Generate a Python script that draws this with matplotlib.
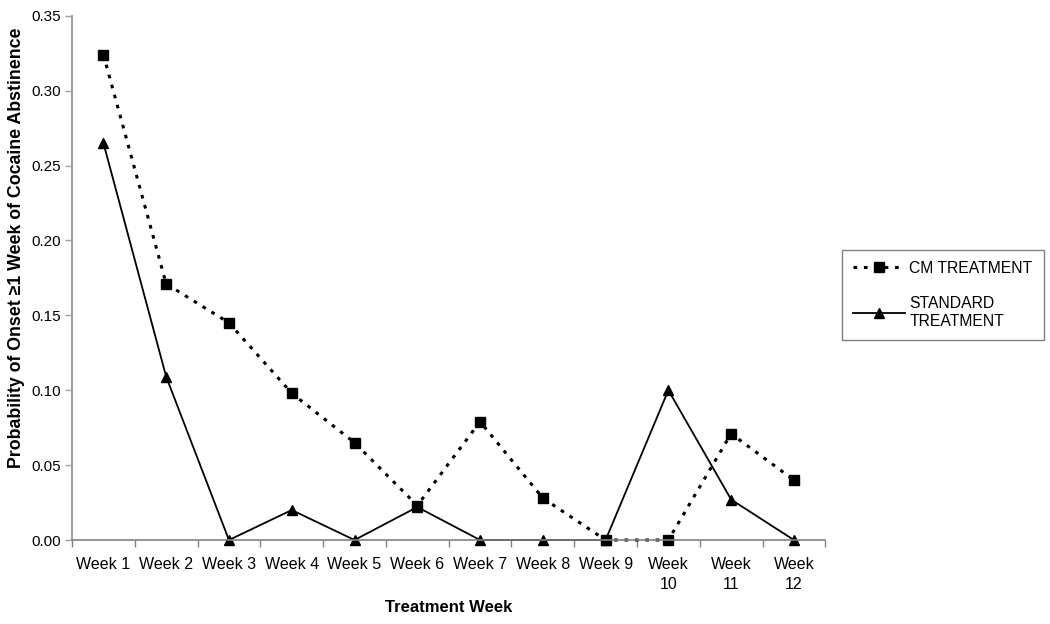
import matplotlib
matplotlib.use("Agg")
import matplotlib.pyplot as plt
from matplotlib.ticker import MultipleLocator, FixedLocator

plt.rcParams['font.family'] = ['Liberation Sans', 'DejaVu Sans']

weeks = ["Week 1", "Week 2", "Week 3", "Week 4", "Week 5", "Week 6", "Week 7",
         "Week 8", "Week 9", "Week\n10", "Week\n11", "Week\n12"]
cm_treatment = [0.324, 0.171, 0.145, 0.098, 0.065, 0.023, 0.079, 0.028, 0.0, 0.0, 0.071, 0.040]
standard_treatment = [0.265, 0.109, 0.0, 0.020, 0.0, 0.022, 0.0, 0.0, 0.0, 0.100, 0.027, 0.0]

fig = plt.figure(figsize=(10.5, 6.24), dpi=100)
ax = fig.add_axes([0.0686, 0.1346, 0.7174, 0.8402])

x = list(range(1, len(weeks) + 1))
ax.plot(x, cm_treatment, linestyle=(0, (1.2, 2.2)), color='black', linewidth=2.2,
        marker='s', markersize=7, markerfacecolor='black', label='CM TREATMENT', clip_on=False)
ax.plot(x, standard_treatment, linestyle='-', color='black', linewidth=1.3,
        marker='^', markersize=7.5, markerfacecolor='black', label='STANDARD\nTREATMENT', clip_on=False)

ax.set_xlim(0.5, len(weeks) + 0.5)
ax.set_ylim(0, 0.35)
ax.yaxis.set_major_locator(MultipleLocator(0.05))
ax.set_yticklabels([f"{v:.2f}" for v in ax.get_yticks()])
ax.set_xticks(x)
ax.set_xticklabels(weeks, fontsize=11.5, linespacing=1.35)
ax.xaxis.set_minor_locator(FixedLocator([i + 0.5 for i in range(0, len(weeks) + 1)]))
ax.tick_params(axis='x', which='major', length=0, pad=12.5)
ax.tick_params(axis='x', which='minor', length=5, direction='out', color='#808080', width=1)
ax.tick_params(axis='y', which='major', length=5, direction='out', color='#a0a0a0', width=1,
               labelsize=11, pad=3)

for s in ['top', 'right']:
    ax.spines[s].set_visible(False)
ax.spines['left'].set_color('#a0a0a0')
ax.spines['left'].set_linewidth(1.5)
ax.spines['bottom'].set_color('#808080')
ax.spines['bottom'].set_linewidth(1.2)

ax.set_ylabel("Probability of Onset \u22651 Week of Cocaine Abstinence", fontsize=12.8,
              fontweight='bold')
ax.yaxis.set_label_coords(-0.062, 0.557)
ax.set_xlabel("Treatment Week", fontsize=12, fontweight='bold')
ax.xaxis.set_label_coords(0.5, -0.114)

leg = fig.legend(loc='upper left', bbox_to_anchor=(842/1050, 1 - 250/624), fontsize=11.3,
                 frameon=True, fancybox=False, edgecolor='#606060', handlelength=3.3,
                 borderpad=0.7, labelspacing=1.3, handletextpad=0.3, borderaxespad=0)
leg.get_frame().set_linewidth(1.0)

fig.savefig("out.png", dpi=100)
